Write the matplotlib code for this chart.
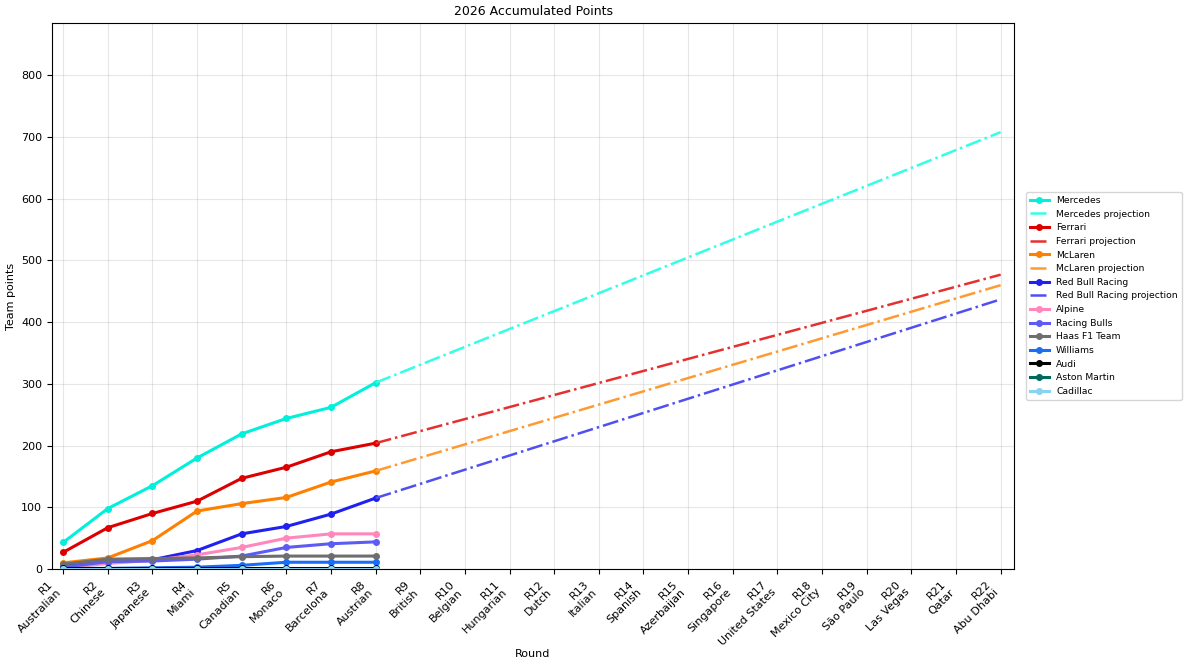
import matplotlib
matplotlib.use("Agg")
import matplotlib.pyplot as plt

# Rounds of the season
races = ["Australian", "Chinese", "Japanese", "Miami", "Canadian", "Monaco",
         "Barcelona", "Austrian", "British", "Belgian", "Hungarian", "Dutch",
         "Italian", "Spanish", "Azerbaijan", "Singapore", "United States",
         "Mexico City", "São Paulo", "Las Vegas", "Qatar", "Abu Dhabi"]
rounds = list(range(1, len(races) + 1))
done = rounds[:8]

# Accumulated team points after each completed round
mercedes = [43, 98, 135, 180, 219, 244, 262, 302]
ferrari = [27, 67, 90, 110, 147, 165, 190, 204]
mclaren = [10, 18, 46, 94, 106, 116, 141, 159]
red_bull = [5, 12, 15, 30, 57, 69, 89, 115]
alpine = [2, 9, 14, 23, 35, 50, 57, 57]
racing_bulls = [3, 12, 13, 16, 21, 35, 41, 44]
haas = [8, 16, 17, 18, 20, 21, 21, 21]
williams = [1, 1, 2, 3, 6, 11, 11, 11]
audi = [2, 2, 2, 2, 2, 2, 2, 2]
aston_martin = [0, 0, 0, 0, 0, 0, 0, 0]
cadillac = [0, 0, 0, 0, 0, 0, 0, 0]

# Projection end values at the final round
proj_end = {"Mercedes": 708, "Ferrari": 477, "McLaren": 460, "Red Bull Racing": 437}

teams = [
    ("Mercedes", mercedes, "#00F0DC"),
    ("Ferrari", ferrari, "#DC0000"),
    ("McLaren", mclaren, "#FF8000"),
    ("Red Bull Racing", red_bull, "#2020F0"),
    ("Alpine", alpine, "#FF87BC"),
    ("Racing Bulls", racing_bulls, "#5C5CF5"),
    ("Haas F1 Team", haas, "#6E6E6E"),
    ("Williams", williams, "#1A6EF5"),
    ("Audi", audi, "#000000"),
    ("Aston Martin", aston_martin, "#00695C"),
    ("Cadillac", cadillac, "#87D3F0"),
]
proj_colors = {"Mercedes": "#33FFE6", "Ferrari": "#E53030",
               "McLaren": "#FF9A33", "Red Bull Racing": "#5050F0"}

fig = plt.figure(figsize=(11.92, 6.66), dpi=100)
ax = fig.add_axes([0.0436, 0.1456, 0.8071, 0.82])

for name, pts, color in teams:
    ax.plot(done, pts, marker="o", markersize=4, linewidth=2.2, color=color, label=name)
    if name in proj_end:
        ax.plot([done[-1], rounds[-1]], [pts[-1], proj_end[name]], linestyle="-.",
                linewidth=1.8, color=proj_colors[name], label=name + " projection")

ax.set_xticks(rounds)
ax.set_xticklabels([f"R{r}\n{n}" for r, n in zip(rounds, races)],
                   rotation=45, ha="right", fontsize=8)
ax.tick_params(axis="y", labelsize=8)
ax.set_xlim(0.75, 22.3)
ax.set_ylim(0, max(proj_end.values()) * 1.25)
ax.grid(True, alpha=0.3)

ax.set_title("2026 Accumulated Points", fontsize=9)
ax.set_xlabel("Round", fontsize=8, labelpad=1)
ax.set_ylabel("Team points", fontsize=8)
ax.legend(loc="center left", bbox_to_anchor=(1.008, 0.5), fontsize=6.7,
          labelspacing=0.5)

fig.savefig("out.png", dpi=100)
